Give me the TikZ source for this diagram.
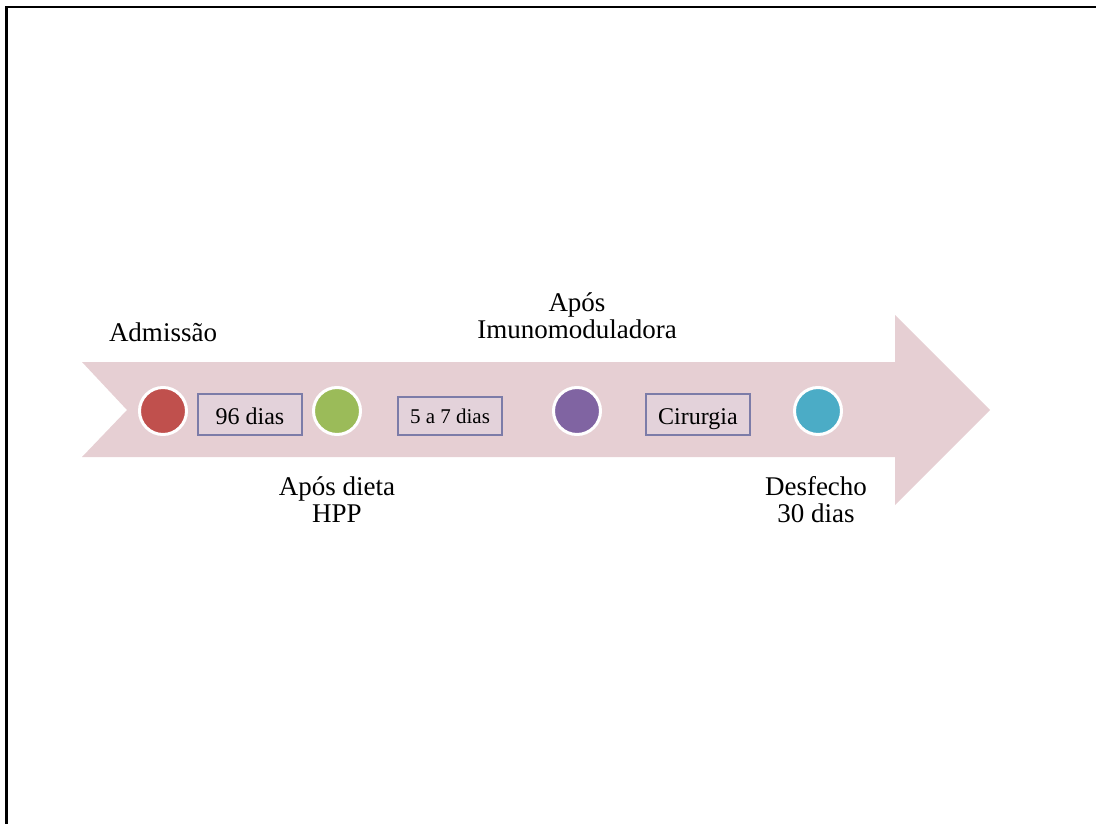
\documentclass[tikz,border=0pt]{standalone}
\usepackage{fontspec}
\setmainfont{Liberation Serif}
\definecolor{arrowpink}{HTML}{E6CFD3}
\definecolor{boxfill}{HTML}{E3D2DA}
\definecolor{boxline}{HTML}{7C7CA8}
\definecolor{cred}{HTML}{C0504D}
\definecolor{cgreen}{HTML}{9BBB59}
\definecolor{cpurple}{HTML}{8064A2}
\definecolor{cblue}{HTML}{4BACC6}
\tikzset{
  dot/.style={circle, draw=white, line width=3pt, minimum size=47pt, inner sep=0pt},
  durbox/.style={draw=boxline, fill=boxfill, line width=1.2pt, minimum width=104pt, inner sep=0pt, font=\fontsize{24}{26}\selectfont},
  lbl/.style={inner sep=0pt, align=center, font=\fontsize{27}{27}\selectfont}
}
\begin{document}
\begin{tikzpicture}[x=1pt,y=-1pt]
\useasboundingbox (0,0) rectangle (1096,824);
% frame
\draw[line width=2.6pt] (6.3,824) -- (6.3,7) -- (1096,7);
% arrow
\fill[arrowpink] (82,362) -- (895,362) -- (895,315) -- (990,410) -- (895,505) -- (895,457) -- (82,457) -- (127,410) -- cycle;
% dots
\node[dot, fill=cred] (c1) at (163,411) {};
\node[dot, fill=cgreen] (c2) at (337,411) {};
\node[dot, fill=cpurple] (c3) at (577,411) {};
\node[dot, fill=cblue] (c4) at (818,411) {};
% duration boxes
\node[durbox, minimum height=41pt, text height=22pt, text depth=3pt] (b1) at (250,414.5) {96 dias};
\node[durbox, minimum height=38pt, text height=17pt, text depth=3pt, font=\fontsize{21}{23}\selectfont] (b2) at (450,416) {5 a 7 dias};
\node[durbox, minimum height=41pt, text height=22pt, text depth=3pt] (b3) at (698,414.5) {Cirurgia};
% labels
\node[lbl, anchor=base] (l1) at (163,341) {Admissão};
\node[lbl, anchor=south] (l2) at (337,523) {Após dieta\\HPP};
\node[lbl, anchor=south] (l3) at (577,339) {Após\\Imunomoduladora};
\node[lbl, anchor=south] (l4) at (816,523) {Desfecho\\30 dias};
\end{tikzpicture}
\end{document}
